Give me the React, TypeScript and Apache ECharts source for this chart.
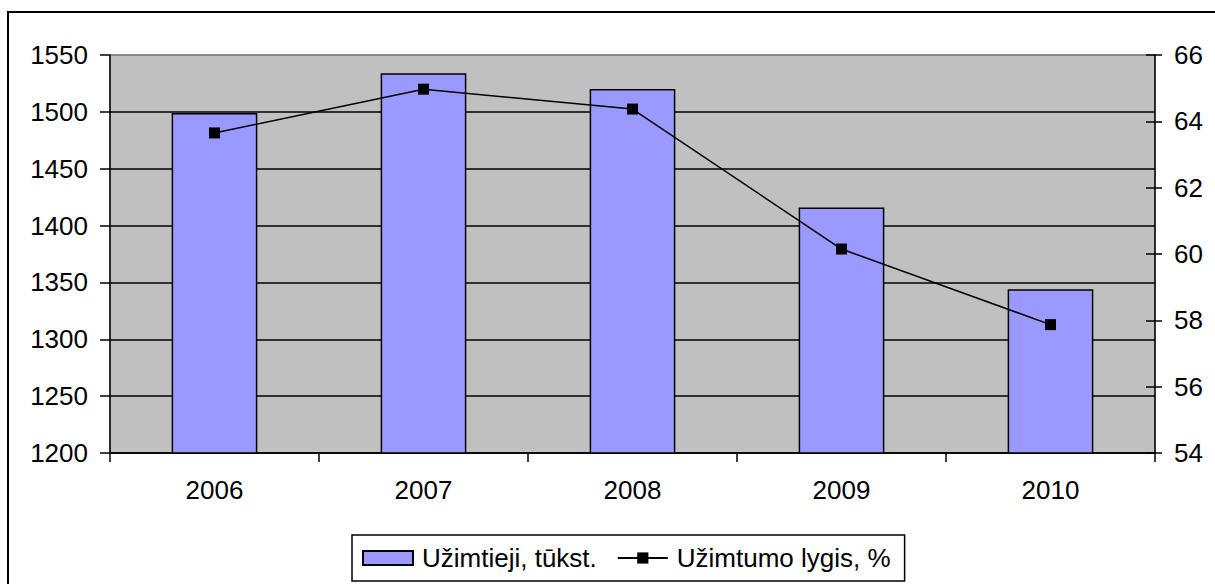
import React, { useEffect, useRef } from "react";
import * as echarts from "echarts";

const years = ["2006", "2007", "2008", "2009", "2010"];
const employed = [1499, 1534, 1520, 1416, 1344];
const employmentRate = [63.65, 64.97, 64.37, 60.15, 57.87];
const barName = "Užimtieji, tūkst.";
const lineName = "Užimtumo lygis, %";

const FONT = "'Liberation Sans', Arial, sans-serif";

export default function App() {
  const ref = useRef<HTMLDivElement>(null);
  useEffect(() => {
    if (!ref.current) return;
    const chart = echarts.init(ref.current, undefined, { renderer: "svg" });
    const leftSplitColors = ["#000", "#000", "#000", "#000", "#000", "#000", "#000", "#808080"];
    chart.setOption({
      animation: false,
      backgroundColor: "#ffffff",
      textStyle: { fontFamily: FONT },
      graphic: [
        {
          type: "rect",
          shape: { x: 8, y: 12, width: 1220, height: 600 },
          style: { fill: "none", stroke: "#000", lineWidth: 2 },
          z: 100,
        },
      ],
      legend: {
        left: 352,
        top: 535,
        padding: [10, 14, 10, 10],
        itemWidth: 50,
        itemHeight: 14,
        itemGap: 20,
        borderColor: "#000",
        borderWidth: 1.5,
        backgroundColor: "#fff",
        textStyle: { fontSize: 26, color: "#000", fontFamily: FONT, padding: [0, 0, 0, 4] },
        data: [
          { name: barName, icon: "rect" },
          { name: lineName },
        ],
      },
      grid: {
        left: 110,
        right: 60,
        top: 55,
        bottom: 131,
        show: true,
        backgroundColor: "#C0C0C0",
        borderColor: "#808080",
        borderWidth: 1,
      },
      xAxis: {
        type: "category",
        data: years,
        boundaryGap: true,
        axisLine: { lineStyle: { color: "#000", width: 1.5 } },
        axisTick: { show: true, length: 9, lineStyle: { color: "#000", width: 1.5 } },
        axisLabel: { fontSize: 26, color: "#000", margin: 24, fontFamily: FONT },
      },
      yAxis: [
        {
          type: "value",
          min: 1200,
          max: 1550,
          interval: 50,
          position: "left",
          axisLine: { show: true, lineStyle: { color: "#000", width: 1.5 } },
          axisTick: { show: true, length: 10, lineStyle: { color: "#000", width: 1.5 } },
          axisLabel: {
            fontSize: 26,
            color: "#000",
            margin: 22,
            fontFamily: FONT,
            formatter: (v: number) => String(v),
          },
          splitLine: { show: true, lineStyle: { color: leftSplitColors, width: 1.5 } },
        },
        {
          type: "value",
          min: 54,
          max: 66,
          interval: 2,
          position: "right",
          axisLine: { show: true, lineStyle: { color: "#000", width: 1.5 } },
          axisTick: { show: true, length: 7, lineStyle: { color: "#000", width: 1.5 } },
          axisLabel: { fontSize: 26, color: "#000", margin: 19, fontFamily: FONT },
          splitLine: { show: false },
        },
        {
          type: "value",
          min: 54,
          max: 66,
          interval: 2,
          position: "right",
          axisLine: { show: false },
          axisTick: { show: true, inside: true, length: 9, lineStyle: { color: "#000", width: 1.5 } },
          axisLabel: { show: false },
          splitLine: { show: false },
        },
      ],
      series: [
        {
          name: barName,
          type: "bar",
          data: employed,
          yAxisIndex: 0,
          barWidth: "41%",
          itemStyle: { color: "#9999FF", borderColor: "#000", borderWidth: 1.5 },
        },
        {
          name: lineName,
          type: "line",
          data: employmentRate,
          yAxisIndex: 1,
          symbol: "rect",
          symbolSize: 11,
          lineStyle: { color: "#000", width: 1.5 },
          itemStyle: { color: "#000" },
          z: 5,
        },
      ],
    });
    return () => chart.dispose();
  }, []);
  return (
    <div
      ref={ref}
      style={{ position: "fixed", left: 0, top: 0, width: 1215, height: 584 }}
    />
  );
}
